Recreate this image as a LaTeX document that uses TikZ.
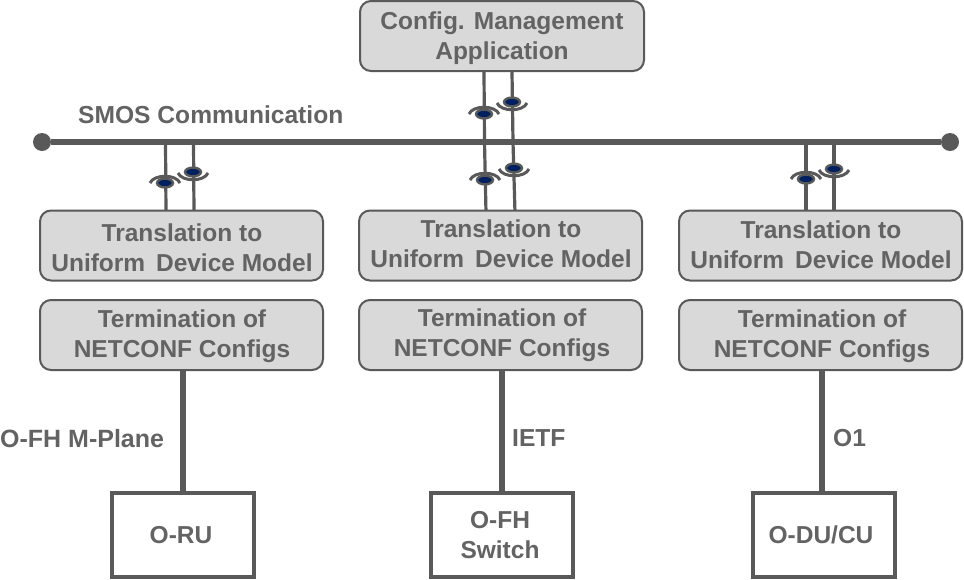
\documentclass[tikz,border=0pt]{standalone}
\usepackage{fontspec}
\setmainfont{Liberation Sans}
\usetikzlibrary{shapes.geometric}
\definecolor{boxgray}{HTML}{D9D9D9}
\definecolor{linegray}{HTML}{595959}
\definecolor{textgray}{HTML}{636363}
\definecolor{eyeblue}{HTML}{002060}
\newcommand{\devmodel}{Uniform\hspace{4pt} Device Model}
\tikzset{
	softbox/.style={draw=linegray, line width=2pt, fill=boxgray, rounded corners=11pt, minimum width=283pt, minimum height=70pt, inner sep=0pt},
	boxtext/.style={inner sep=0pt, text=textgray, align=center, font=\fontsize{24.5}{30}\selectfont\bfseries},
	endbox/.style={draw=linegray, line width=4pt, fill=white, minimum width=142pt, minimum height=84pt, inner sep=0pt},
	tag/.style={text=textgray, inner sep=0pt, font=\fontsize{24.6}{30}\selectfont\bfseries},
	bus/.style={linegray, line width=6pt},
	tap/.style={linegray, line width=3.2pt},
	link/.style={linegray, line width=6pt},
	busend/.style={circle, fill=linegray, minimum size=18pt, inner sep=0pt},
	eyeup/.pic={
		\draw[linegray, line width=3pt] (-15,0) .. controls (-11,-9) and (11,-9) .. (15,0);
		\draw[linegray, line width=2.4pt, fill=eyeblue] (0,0) ellipse (8pt and 4.4pt);
	},
	eyedown/.pic={
		\draw[linegray, line width=3pt] (-15,1) .. controls (-11,10) and (11,10) .. (15,1);
		\draw[linegray, line width=2.4pt, fill=eyeblue] (0,0) ellipse (8pt and 4.4pt);
	}
}
\begin{document}
\begin{tikzpicture}[x=1pt, y=-1pt]
	\useasboundingbox (0,0) rectangle (964,579);

	% Bus
	\node[busend] (busl) at (42,142) {};
	\node[busend] (busr) at (950,142) {};
	\draw[bus] (busl) -- (busr);
	\node[tag, anchor=west] (smos) at (78,114.5) {SMOS Communication};

	\coordinate (tapa) at (484.5,142);
	\coordinate (tapb) at (513,142);
	\coordinate (tapc) at (165.5,142);
	\coordinate (tapd) at (193.5,142);
	\coordinate (tape) at (806,142);
	\coordinate (tapf) at (834,142);

	% Application
	\node[softbox, minimum width=284pt] (app) at (502,36) {};
	\node[boxtext] (apptext) at (502,38) {Config. Management\\Application};
	\draw[tap] (app.south -| 484,0) -- (tapa);
	\draw[tap] (app.south -| 512,0) -- (tapb);

	% First column
	\draw[tap] (tapc) -- (166,213);
	\draw[tap] (tapd) -- (194,213);
	\node[softbox] (transl) at (181.5,245.5) {};
	\node[boxtext] (transltext) at (182,248) {Translation to\\\devmodel};
	\node[softbox] (terml) at (181.5,335) {};
	\node[boxtext] (termltext) at (182,336) {Termination of\\NETCONF Configs};
	\node[endbox] (oru) at (182.5,534.5) {};
	\node[boxtext] (orutext) at (181,535) {O-RU};
	\draw[link] (terml.south -| oru) -- (oru.north);
	\node[tag, anchor=west, font=\fontsize{25}{30}\selectfont\bfseries] (mplane) at (0,438.5) {O-FH M-Plane};
	\pic at (165,183) {eyeup};
	\pic at (193,172) {eyedown};

	% Second column
	\draw[tap] (tapa) -- (486,213);
	\draw[tap] (tapb) -- (515,213);
	\node[softbox] (transm) at (500.5,245.5) {};
	\node[boxtext] (transmtext) at (501,244) {Translation to\\\devmodel};
	\node[softbox] (termm) at (500.5,335) {};
	\node[boxtext] (termmtext) at (502,335.5) {Termination of\\NETCONF Configs};
	\node[endbox] (switch) at (501.5,534.5) {};
	\node[boxtext] (switchtext) at (500,535) {O-FH\\Switch};
	\draw[link] (termm.south -| switch) -- (switch.north);
	\node[tag, anchor=west] (ietf) at (512,438.5) {IETF};
	\pic at (484,114) {eyeup};
	\pic at (512,102) {eyedown};
	\pic at (485,180) {eyeup};
	\pic at (514,168) {eyedown};

	% Third column
	\draw[tap] (tape) -- (806,213);
	\draw[tap] (tapf) -- (834,213);
	\node[softbox] (transr) at (820.5,245.5) {};
	\node[boxtext] (transrtext) at (821,244.5) {Translation to\\\devmodel};
	\node[softbox] (termr) at (820.5,335) {};
	\node[boxtext] (termrtext) at (822,336) {Termination of\\NETCONF Configs};
	\node[endbox] (odu) at (823.5,534.5) {};
	\node[boxtext] (odutext) at (821,535) {O-DU/CU};
	\draw[link] (termr.south -| 822,0) -- (odu.north -| 822,0);
	\node[tag, anchor=west] (oone) at (833,438.5) {O1};
	\pic at (806,179) {eyeup};
	\pic at (834,169) {eyedown};

\end{tikzpicture}
\end{document}
